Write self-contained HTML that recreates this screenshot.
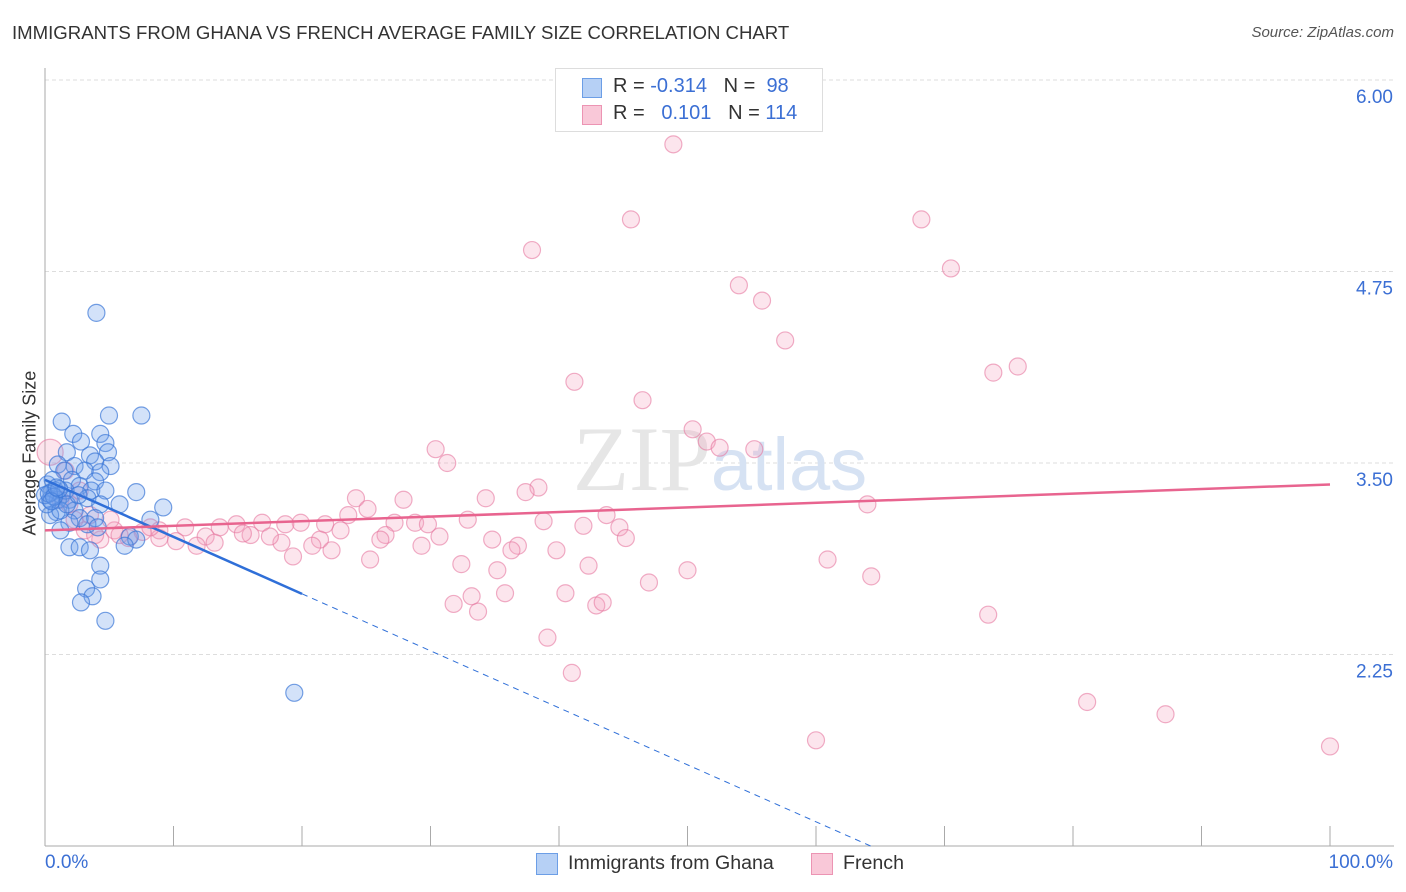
<!DOCTYPE html>
<html><head><meta charset="utf-8"><style>
body{margin:0;background:#fff;font-family:"Liberation Sans",sans-serif;}
#wrap{position:relative;width:1406px;height:892px;overflow:hidden;}
.t{position:absolute;white-space:nowrap;}
</style></head><body>
<div id="wrap">
<div class="t" style="left:12px;top:22px;font-size:18.6px;color:#333;">IMMIGRANTS FROM GHANA VS FRENCH AVERAGE FAMILY SIZE CORRELATION CHART</div>
<div class="t" style="right:12px;top:24px;font-size:15px;color:#555;font-style:italic;">Source: ZipAtlas.com</div>
<div class="t" style="left:-50px;top:445px;font-size:18px;color:#333;transform:rotate(-90deg);width:160px;text-align:center;">Average Family Size</div>
<svg id="svg" width="1406" height="892" style="position:absolute;left:0;top:0"></svg>
</div>
<script>
const yTicks=[6.00,4.75,3.50,2.25];
const ghanaX=[4.0,1.3,4.98,7.5,2.2,4.3,2.8,4.7,4.9,1.7,3.5,1.0,2.3,3.9,5.1,1.5,3.1,4.3,2.1,3.9,2.7,3.6,4.7,7.1,0.8,1.3,0.4,1.9,3.3,5.8,9.2,4.3,2.3,0.9,2.7,3.9,8.2,1.9,3.3,4.1,1.2,0.4,6.6,7.1,6.2,1.9,2.7,3.5,4.3,4.3,3.2,3.7,2.8,4.7,19.4,0.2,0.5,1.0,1.6,0.15,0.6,1.2,0,1.7,2.6,0.3,0.7,1.1,0.5,0.9];
const ghanaY=[4.48,3.77,3.81,3.81,3.69,3.69,3.64,3.63,3.57,3.57,3.55,3.49,3.48,3.51,3.48,3.45,3.45,3.44,3.39,3.38,3.35,3.32,3.32,3.31,3.32,3.29,3.26,3.26,3.27,3.23,3.21,3.23,3.19,3.18,3.14,3.14,3.13,3.11,3.10,3.08,3.06,3.16,3.02,3.00,2.96,2.95,2.95,2.93,2.83,2.74,2.68,2.63,2.59,2.47,2.00,3.36,3.31,3.26,3.32,3.23,3.39,3.19,3.29,3.23,3.29,3.30,3.28,3.33,3.25,3.34];
const frenchX=[48.9,45.6,68.2,37.9,70.5,54.0,55.8,57.6,75.7,73.8,41.2,46.5,50.4,51.5,52.5,55.2,30.4,31.3,38.4,37.4,34.3,24.2,27.9,64.0,25.1,23.6,43.7,32.9,38.8,41.9,44.7,27.2,28.8,29.8,26.5,30.7,34.8,45.2,36.8,36.3,39.8,29.3,26.1,23.0,21.8,19.9,18.7,16.9,14.9,13.6,10.9,8.9,21.4,20.8,18.4,22.3,19.3,16.0,17.5,15.4,12.5,13.2,11.8,10.2,8.9,7.6,6.5,5.4,4.3,3.1,2.3,1.2,0.4,25.3,32.4,35.2,42.3,50.0,60.9,64.3,47.0,35.8,40.5,33.2,31.8,42.9,43.4,33.7,73.4,39.1,41.0,81.1,87.2,60.0,100,1.9,2.7,3.9,1.6,3.5,5.1,5.8,8.2];
const frenchY=[5.58,5.09,5.09,4.89,4.77,4.66,4.56,4.30,4.13,4.09,4.03,3.91,3.72,3.64,3.60,3.59,3.59,3.50,3.34,3.31,3.27,3.27,3.26,3.23,3.20,3.16,3.16,3.13,3.12,3.09,3.08,3.11,3.11,3.10,3.03,3.02,3.00,3.01,2.96,2.93,2.93,2.96,3.00,3.06,3.10,3.11,3.10,3.11,3.10,3.08,3.08,3.06,3.00,2.96,2.98,2.93,2.89,3.03,3.02,3.04,3.02,2.98,2.96,2.99,3.01,3.05,3.01,3.06,3.00,3.06,3.13,3.26,3.57,2.87,2.84,2.80,2.83,2.80,2.87,2.76,2.72,2.65,2.65,2.63,2.58,2.57,2.59,2.53,2.51,2.36,2.13,1.94,1.86,1.69,1.65,3.23,3.32,3.03,3.45,3.16,3.13,3.03,3.08];
const ghanaTrend=[3.39,-0.0372];
const frenchTrend=[3.06,0.0030];
const X=v=>45+v*12.85, Y=v=>80+(6-v)*153.2;
const svg=document.getElementById('svg');const NS='http://www.w3.org/2000/svg';
function mk(t,a,p){const e=document.createElementNS(NS,t);for(const k in a)e.setAttribute(k,a[k]);(p||svg).appendChild(e);return e;}
yTicks.forEach(v=>{
const g=mk('line',{x1:45,x2:1394,y1:Y(v),y2:Y(v),stroke:'#ddd','stroke-dasharray':'4,3'});


const t=mk('text',{x:1393,y:Y(v)+23,'text-anchor':'end','font-size':19,fill:'#3b6fd4','font-family':'Liberation Sans'});t.textContent=v.toFixed(2);


});
const ax=mk('line',{x1:45,x2:45,y1:68,y2:846,stroke:'#aaa'});


const bx=mk('line',{x1:45,x2:1394,y1:846,y2:846,stroke:'#aaa'});


for(let i=0;i<=10;i++){const tk=mk('line',{x1:X(i*10),x2:X(i*10),y1:826,y2:846,stroke:'#aaa'});

}
const wm=mk('text',{x:720,y:490,'text-anchor':'middle','font-size':92,fill:'#e6e6e6','font-family':'Liberation Serif'});wm.innerHTML='ZIP<tspan fill="#d6e2f3" font-family="Liberation Sans" font-size="74">atlas</tspan>';


frenchX.forEach((x,i)=>{const c=mk('circle',{cx:X(x),cy:Y(frenchY[i]),r:(x<1?13:8.5),fill:'rgba(244,160,190,0.28)',stroke:'rgba(230,120,160,0.6)','stroke-width':1.2});

});
ghanaX.forEach((x,i)=>{const c=mk('circle',{cx:X(x),cy:Y(ghanaY[i]),r:8.5,fill:'rgba(110,160,235,0.3)',stroke:'rgba(60,120,215,0.7)','stroke-width':1.2});

});
const gy=x=>ghanaTrend[0]+ghanaTrend[1]*x;
const l1=mk('line',{x1:X(0),y1:Y(gy(0)),x2:X(20),y2:Y(gy(20)),stroke:'#2f6fd8','stroke-width':2.5});


const xe=(ghanaTrend[0]-1)/-ghanaTrend[1];
const l2=mk('line',{x1:X(20),y1:Y(gy(20)),x2:X(xe),y2:Y(1),stroke:'#2f6fd8','stroke-width':1,'stroke-dasharray':'6,5'});


const fy=x=>frenchTrend[0]+frenchTrend[1]*x;
const l3=mk('line',{x1:X(0),y1:Y(fy(0)),x2:X(100),y2:Y(fy(100)),stroke:'#e8648f','stroke-width':2.5});


</script>
<div style="position:absolute;left:555px;top:68px;width:266px;height:62px;border:1px solid #ddd;background:#fff;font-size:20px;color:#333;">
<div style="position:absolute;left:26px;top:9px;width:18px;height:18px;background:#b6d0f5;border:1px solid #6c9ee6"></div>
<div class="t" style="left:57px;top:6px">R = <span style="color:#3b6fd4">-0.314</span>&nbsp;&nbsp;&nbsp;N = &nbsp;<span style="color:#3b6fd4">98</span></div>
<div style="position:absolute;left:26px;top:36px;width:18px;height:18px;background:#f9c8d8;border:1px solid #ec94b3"></div>
<div class="t" style="left:57px;top:33px">R = &nbsp;&nbsp;<span style="color:#3b6fd4">0.101</span>&nbsp;&nbsp;&nbsp;N = <span style="color:#3b6fd4">114</span></div>
</div>
<div class="t" style="left:45px;top:852px;font-size:19px;color:#3b6fd4">0.0%</div>
<div class="t" style="right:13px;top:852px;font-size:19px;color:#3b6fd4">100.0%</div>
<div style="position:absolute;left:536px;top:853px;width:20px;height:20px;background:#b6d0f5;border:1px solid #6c9ee6"></div>
<div class="t" style="left:568px;top:852px;font-size:19.6px;color:#333">Immigrants from Ghana</div>
<div style="position:absolute;left:811px;top:853px;width:20px;height:20px;background:#f9c8d8;border:1px solid #ec94b3"></div>
<div class="t" style="left:843px;top:852px;font-size:19.6px;color:#333">French</div>
</body></html>
